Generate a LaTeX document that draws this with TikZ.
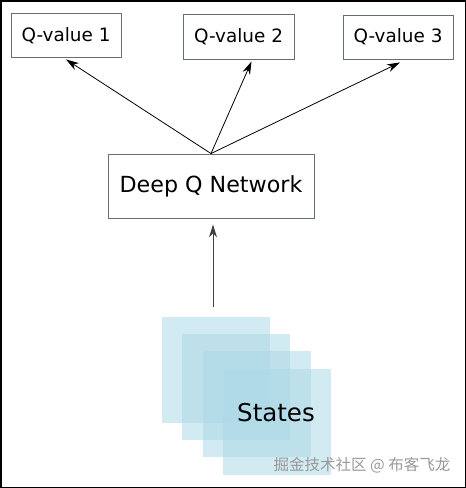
\documentclass[tikz,border=0pt]{standalone}
\usepackage{fontspec}
\setmainfont{DejaVu Sans}
\newfontfamily\cjk{Noto Sans CJK SC}
\usetikzlibrary{arrows.meta}
\definecolor{boxline}{RGB}{100,110,122}
\definecolor{statefill}{RGB}{173,216,230}
\tikzset{
  qbox/.style={draw=boxline,line width=0.9pt,minimum width=110pt,minimum height=44pt,inner sep=0pt,font=\fontsize{18.4}{22}\selectfont},
  netbox/.style={draw=boxline,line width=0.9pt,minimum width=206pt,minimum height=64pt,inner sep=0pt,font=\fontsize{22.2}{26}\selectfont},
  statebox/.style={fill=statefill,fill opacity=0.55,minimum width=108pt,minimum height=106pt,inner sep=0pt},
  qarrow/.style={-{Stealth[length=13pt,width=8pt]},line width=0.8pt}
}
\begin{document}
\begin{tikzpicture}[x=1pt,y=-1pt]
        \useasboundingbox (0,0) rectangle (466,488);
        \draw[line width=1.5pt](0.75,0.75)rectangle(465.25,487.25);

        \node[qbox](q1)at(66,35.5){Q-value 1};
        \node[qbox,minimum width=111pt,minimum height=45pt](q2)at(238.5,36.5){Q-value 2};
        \node[qbox](q3)at(398,37){Q-value 3};
        \node[netbox](net)at(211,186){Deep Q Network};

        \foreach \i in {1,2,3,4} \node[statebox](s\i)at({215.5+20.5*(\i-1)},{370+17.2*(\i-1)}){};
        \node[font=\fontsize{24.5}{28}\selectfont](lbl)at(276,413){States};

        \draw[qarrow](net.north)--([yshift=-1.5pt]q1.south);
        \draw[qarrow](net.north)--([xshift=13pt,yshift=-2pt]q2.south);
        \draw[qarrow](net.north)--([xshift=2pt,yshift=-3pt]q3.south);
        \draw[qarrow,draw=black!75,shorten <=10pt,shorten >=6pt]([xshift=-2.5pt]s1.north)--([xshift=2pt]net.south);

        \node[text=black!40,font=\cjk\fontsize{15.5}{18}\selectfont](mark)at(362,465){掘金技术社区 @ 布客飞龙};
    \end{tikzpicture}
\end{document}
